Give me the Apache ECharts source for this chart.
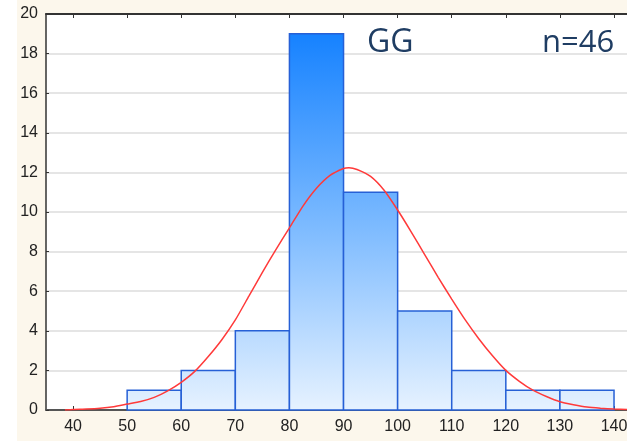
<!DOCTYPE html>
<html>
<head>
<meta charset="utf-8">
<script src="https://cdn.jsdelivr.net/npm/echarts@6/dist/echarts.min.js"></script>
<style>
  html, body { margin: 0; padding: 0; background: #fff; }
  #chart { position: absolute; left: 17px; top: 0; width: 610px; height: 441px; background: #fcf7ec; }
</style>
</head>
<body>
<div id="chart"></div>
<script>
// histogram bins
const binStart = [50, 60, 70, 80, 90, 100, 110, 120, 130];
const binEnd = [60, 70, 80, 90, 100, 110, 120, 130, 140];
const counts = [1, 2, 4, 19, 11, 5, 2, 1, 1];

// fitted normal curve
const curveX = [38.5, 40, 42.5, 45, 47.5, 50, 52.5, 55, 57.5, 60, 62.5, 65, 67.5, 70, 72.5, 75, 77.5, 80, 82.5, 85, 87.5,
  90, 91, 92.5, 95, 97.5, 100, 102.5, 105, 107.5, 110, 112.5, 115, 117.5, 120, 122.5, 125, 127.5, 130, 132.5, 135, 137.5, 140, 142.4];
const curveY = [0, 0.03, 0.05, 0.09, 0.17, 0.3, 0.43, 0.64, 0.97, 1.4, 1.95, 2.7, 3.55, 4.55, 5.75, 6.95, 8.1, 9.2, 10.3, 11.2, 11.85,
  12.2, 12.24, 12.15, 11.8, 11.1, 10.1, 9.0, 7.85, 6.7, 5.6, 4.55, 3.6, 2.75, 2.0, 1.45, 1.0, 0.68, 0.42, 0.27, 0.15, 0.09, 0.05, 0.03];

const xTicks = [40, 50, 60, 70, 80, 90, 100, 110, 120, 130, 140];

const labelFont = "'Liberation Sans Narrow', 'Arial Narrow', 'Liberation Sans', sans-serif";

let myChart = echarts.init(document.getElementById('chart'));

let barData = binStart.map((s, i) => [s, binEnd[i], counts[i]]);
let curveData = curveX.map((x, i) => [x, curveY[i]]);

let option = {
  animation: false,
  grid: {
    left: 29, right: 0, top: 14, bottom: 31,
    outerBoundsMode: 'none',
    show: true, backgroundColor: '#fff', borderWidth: 0
  },
  xAxis: [{
    type: 'value', min: 35, max: 142.4,
    axisLine: {lineStyle: {color: '#555', width: 2}},
    axisTick: {inside: true, length: 4, customValues: xTicks, lineStyle: {color: '#333'}},
    axisLabel: {customValues: xTicks, color: '#222', fontSize: 16, fontFamily: labelFont, margin: 9},
    splitLine: {show: false}
  }, {
    type: 'value', position: 'top', min: 35, max: 142.4,
    axisLine: {show: true, lineStyle: {color: '#333', width: 2}},
    axisTick: {inside: true, length: 4, customValues: xTicks, lineStyle: {color: '#333'}},
    axisLabel: {show: false},
    splitLine: {show: false}
  }],
  yAxis: {
    type: 'value', min: 0, max: 20, interval: 2,
    axisLine: {show: true, lineStyle: {color: '#333', width: 1.5}},
    axisTick: {show: true, inside: true, length: 3, lineStyle: {color: '#333'}},
    axisLabel: {color: '#222', fontSize: 16, fontFamily: labelFont, margin: 8},
    splitLine: {lineStyle: {color: '#dcdcdc', width: 1.5}}
  },
  series: [{
    type: 'custom',
    data: barData,
    z: 2,
    renderItem: (params, api) => {
      let p0 = api.coord([api.value(0), api.value(2)]);
      let p1 = api.coord([api.value(1), 0]);
      let yTop = api.coord([0, 19])[1];
      let yBot = api.coord([0, 0])[1];
      return {
        type: 'rect',
        shape: {x: p0[0], y: p0[1], width: p1[0] - p0[0], height: p1[1] - p0[1]},
        style: {
          fill: new echarts.graphic.LinearGradient(0, yTop, 0, yBot, [
            {offset: 0, color: '#1682ff'},
            {offset: 0.5, color: '#7ab9ff'},
            {offset: 1, color: '#e6f2ff'}
          ], true),
          stroke: '#2660d6',
          lineWidth: 1.5
        }
      };
    }
  }, {
    type: 'line',
    data: curveData,
    smooth: 0.2,
    showSymbol: false,
    z: 3,
    lineStyle: {color: '#ff3a3a', width: 1.5}
  }],
  graphic: [{
    type: 'text', left: 350, top: 27,
    style: {text: 'GG', fill: '#1f3d63', font: "32px 'Open Sans', 'Noto Sans', sans-serif"}
  }, {
    type: 'text', left: 525, top: 28,
    style: {text: 'n=46', fill: '#1f3d63', font: "31px 'Open Sans', 'Noto Sans', sans-serif"}
  }]
};
myChart.setOption(option);
</script>
</body>
</html>
